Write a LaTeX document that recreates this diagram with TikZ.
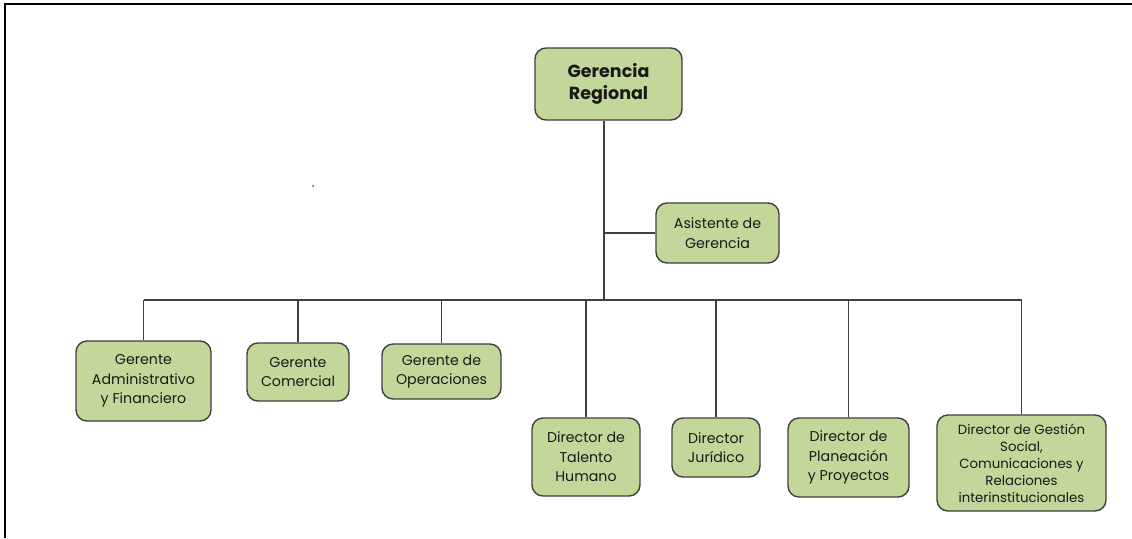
\documentclass[tikz,border=0pt]{standalone}
\usepackage{fontspec}
\setmainfont{Poppins}
\definecolor{boxfill}{HTML}{C4D79B}
\definecolor{boxline}{HTML}{3F3F3F}
\definecolor{linec}{HTML}{404040}
\begin{document}
\begin{tikzpicture}[x=1pt,y=-1pt,
  orgbox/.style={draw=boxline,fill=boxfill,line width=1.4pt,rounded corners=11pt,
    align=center,inner sep=0pt,font=\fontsize{14.2}{19.5}\selectfont,text=black!90},
  conn/.style={draw=linec,line width=1.2pt}]
\useasboundingbox (0,0) rectangle (1132,538);
\draw[line width=2.3pt] (5,538) -- (5,4) -- (1132,4);
\fill[blue!80] (313,186) circle (1pt);
\node[orgbox,minimum width=147pt,minimum height=72pt,font=\fontsize{17.5}{22}\selectfont\bfseries] (top) at (608.5,84) {Gerencia\\Regional};
\node[orgbox,minimum width=123pt,minimum height=60pt] (asis) at (717.5,233) {Asistente de\\Gerencia};
\node[orgbox,minimum width=135pt,minimum height=80pt] (gaf) at (143.5,381) {Gerente\\Administrativo\\y Financiero};
\node[orgbox,minimum width=102pt,minimum height=58pt] (gc) at (298,372) {Gerente\\Comercial};
\node[orgbox,minimum width=119pt,minimum height=55pt] (go) at (441.5,371.5) {Gerente de\\Operaciones};
\node[orgbox,minimum width=108pt,minimum height=78pt] (dth) at (586,457) {Director de\\Talento\\Humano};
\node[orgbox,minimum width=88pt,minimum height=59pt] (dj) at (716,447.5) {Director\\Jurídico};
\node[orgbox,minimum width=121pt,minimum height=79pt] (dpp) at (848.5,457.5) {Director de\\Planeación\\y Proyectos};
\node[orgbox,minimum width=169pt,minimum height=96pt,font=\fontsize{13.3}{17}\selectfont] (dgs) at (1021.5,463) {Director de Gestión\\Social,\\Comunicaciones y\\Relaciones\\interinstitucionales};
\coordinate (j) at (604,300);
\draw[conn] (j |- top.south) -- (j);
\draw[conn] (asis.west) -- (asis.west -| j);
\draw[conn] (gaf.north |- j) -- (dgs.north |- j);
\foreach \n in {gaf,gc,go,dth,dj,dpp,dgs} \draw[conn] (\n.north) -- (\n.north |- j);
\end{tikzpicture}
\end{document}
